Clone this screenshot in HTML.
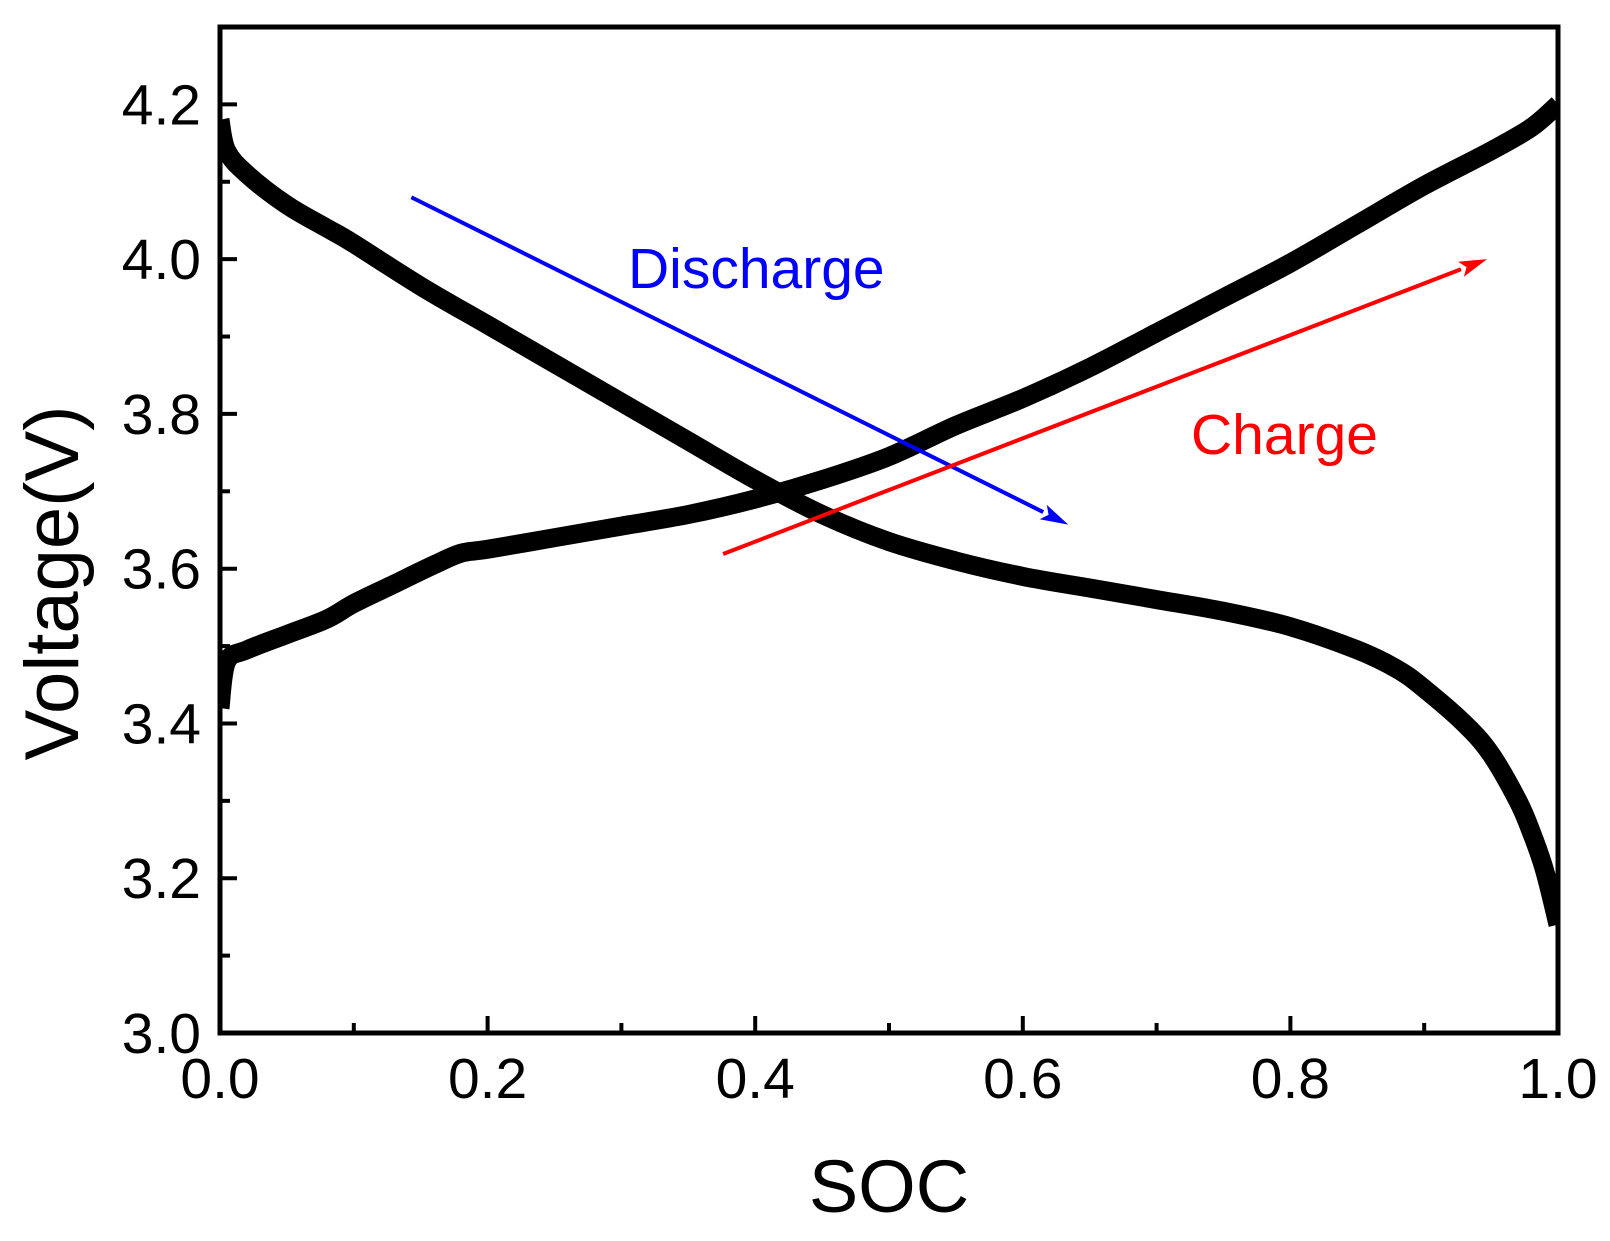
<!DOCTYPE html>
<html><head><meta charset="utf-8"><style>
html,body{margin:0;padding:0;background:#fff}
svg{display:block;font-family:"Liberation Sans",Arial,sans-serif}
</style></head><body>
<svg id="chart" width="1610" height="1241" viewBox="0 0 1610 1241" xmlns="http://www.w3.org/2000/svg">
<g id="plot"></g>
</svg>
<script>
const xTicks=[0,0.1,0.2,0.3,0.4,0.5,0.6,0.7,0.8,0.9,1.0];
const xTickLabels=["0.0","","0.2","","0.4","","0.6","","0.8","","1.0"];
const yTicks=[3.0,3.1,3.2,3.3,3.4,3.5,3.6,3.7,3.8,3.9,4.0,4.1,4.2];
const yTickLabels=["3.0","","3.2","","3.4","","3.6","","3.8","","4.0","","4.2"];
const dischargeSoc=[0,0.005,0.02,0.05,0.08,0.1,0.15,0.2,0.25,0.3,0.35,0.4,0.45,0.5,0.55,0.6,0.65,0.7,0.75,0.8,0.85,0.88,0.9,0.93,0.95,0.97,0.98,0.99,1.0];
const dischargeV=[4.18,4.14,4.11,4.07,4.04,4.02,3.965,3.915,3.865,3.815,3.765,3.715,3.67,3.635,3.61,3.59,3.575,3.56,3.545,3.525,3.495,3.47,3.445,3.40,3.36,3.30,3.26,3.21,3.14];
const chargeSoc=[0,0.005,0.02,0.05,0.08,0.1,0.13,0.16,0.18,0.2,0.25,0.3,0.35,0.4,0.45,0.5,0.55,0.6,0.65,0.7,0.75,0.8,0.85,0.9,0.95,0.98,1.0];
const chargeV=[3.42,3.48,3.495,3.515,3.535,3.555,3.58,3.605,3.62,3.625,3.64,3.655,3.67,3.69,3.715,3.745,3.785,3.82,3.86,3.905,3.95,3.995,4.045,4.095,4.14,4.17,4.20];
const dischargeArrow=[[0.143,4.08],[0.634,3.657]];
const chargeArrow=[[0.376,3.619],[0.947,4.00]];

const L=220,R=1558,T=27,B=1033,yMin=3.0,yMax=4.3;
const sx=v=>L+(R-L)*v;
const sy=v=>B-(B-T)*(v-yMin)/(yMax-yMin);
const NS="http://www.w3.org/2000/svg";
const g=document.getElementById('plot');
function mk(tag,attrs,parent){const e=document.createElementNS(NS,tag);for(const k in attrs)e.setAttribute(k,attrs[k]);(parent||g).appendChild(e);return e;}
function smooth(xs,ys){
  const P=xs.map((x,i)=>[sx(x),sy(ys[i])]);
  let d='M'+P[0][0].toFixed(1)+','+P[0][1].toFixed(1);
  for(let i=0;i<P.length-1;i++){
    const p0=P[Math.max(0,i-1)],p1=P[i],p2=P[i+1],p3=P[Math.min(P.length-1,i+2)];
    const c1=[p1[0]+(p2[0]-p0[0])/6,p1[1]+(p2[1]-p0[1])/6];
    const c2=[p2[0]-(p3[0]-p1[0])/6,p2[1]-(p3[1]-p1[1])/6];
    d+=' C'+c1.map(v=>v.toFixed(1)).join(',')+' '+c2.map(v=>v.toFixed(1)).join(',')+' '+p2.map(v=>v.toFixed(1)).join(',');
  }
  return d;
}

let p1=mk('path',{d:smooth(dischargeSoc,dischargeV),fill:'none',stroke:'#000','stroke-width':19,'stroke-linejoin':'round'});


let p2=mk('path',{d:smooth(chargeSoc,chargeV),fill:'none',stroke:'#000','stroke-width':19,'stroke-linejoin':'round'});



let c1=mk('rect',{x:0,y:0,width:L-2,height:1241,fill:'#fff'});


let c2=mk('rect',{x:R+2,y:0,width:100,height:1241,fill:'#fff'});



function arrow(pts,color,name){
  const x1=sx(pts[0][0]),y1=sy(pts[0][1]),x2=sx(pts[1][0]),y2=sy(pts[1][1]);
  const a=Math.atan2(y2-y1,x2-x1),len=28,w=8;
  const bx=x2-len*Math.cos(a),by=y2-len*Math.sin(a);
  const ln=mk('line',{x1:x1,y1:y1,x2:bx,y2:by,stroke:color,'stroke-width':4});
  
  
  const hp=[[x2,y2],[bx+w*Math.sin(a),by-w*Math.cos(a)],[bx+6*Math.cos(a),by+6*Math.sin(a)],[bx-w*Math.sin(a),by+w*Math.cos(a)]];
  const hd=mk('polygon',{points:hp.map(q=>q.join(',')).join(' '),fill:color});
  
  
}
arrow(dischargeArrow,'#0000ff','discharge');
arrow(chargeArrow,'#ff0000','charge');

let fr=mk('rect',{x:L,y:T,width:R-L,height:B-T,fill:'none',stroke:'#000','stroke-width':5});



xTicks.forEach((v,i)=>{
  const major=xTickLabels[i]!=='';
  const t=mk('line',{x1:sx(v),x2:sx(v),y1:B,y2:B-(major?17:10),stroke:'#000','stroke-width':4});
  
  
  if(major){
    const tx=mk('text',{x:sx(v),y:1098,'font-size':57,'text-anchor':'middle',fill:'#000'});
    tx.textContent=xTickLabels[i];
    
    
  }
});
yTicks.forEach((v,i)=>{
  const major=yTickLabels[i]!=='';
  const t=mk('line',{x1:L,x2:L+(major?17:10),y1:sy(v),y2:sy(v),stroke:'#000','stroke-width':4});
  
  
  if(major){
    const tx=mk('text',{x:201,y:sy(v)+20,'font-size':57,'text-anchor':'end',fill:'#000'});
    tx.textContent=yTickLabels[i];
    
    
  }
});

let xt=mk('text',{x:889,y:1212,'font-size':74,'text-anchor':'middle',fill:'#000'});
xt.textContent='SOC';


let yt=mk('text',{x:0,y:0,'font-size':76,'text-anchor':'middle',fill:'#000',transform:'translate(78,583) rotate(-90)'});
yt.textContent='Voltage(V)';


let dl=mk('text',{x:628,y:288,'font-size':57,fill:'#0000ff'});
dl.textContent='Discharge';


let cl=mk('text',{x:1191,y:454,'font-size':57,fill:'#ff0000'});
cl.textContent='Charge';


</script>
</body></html>
